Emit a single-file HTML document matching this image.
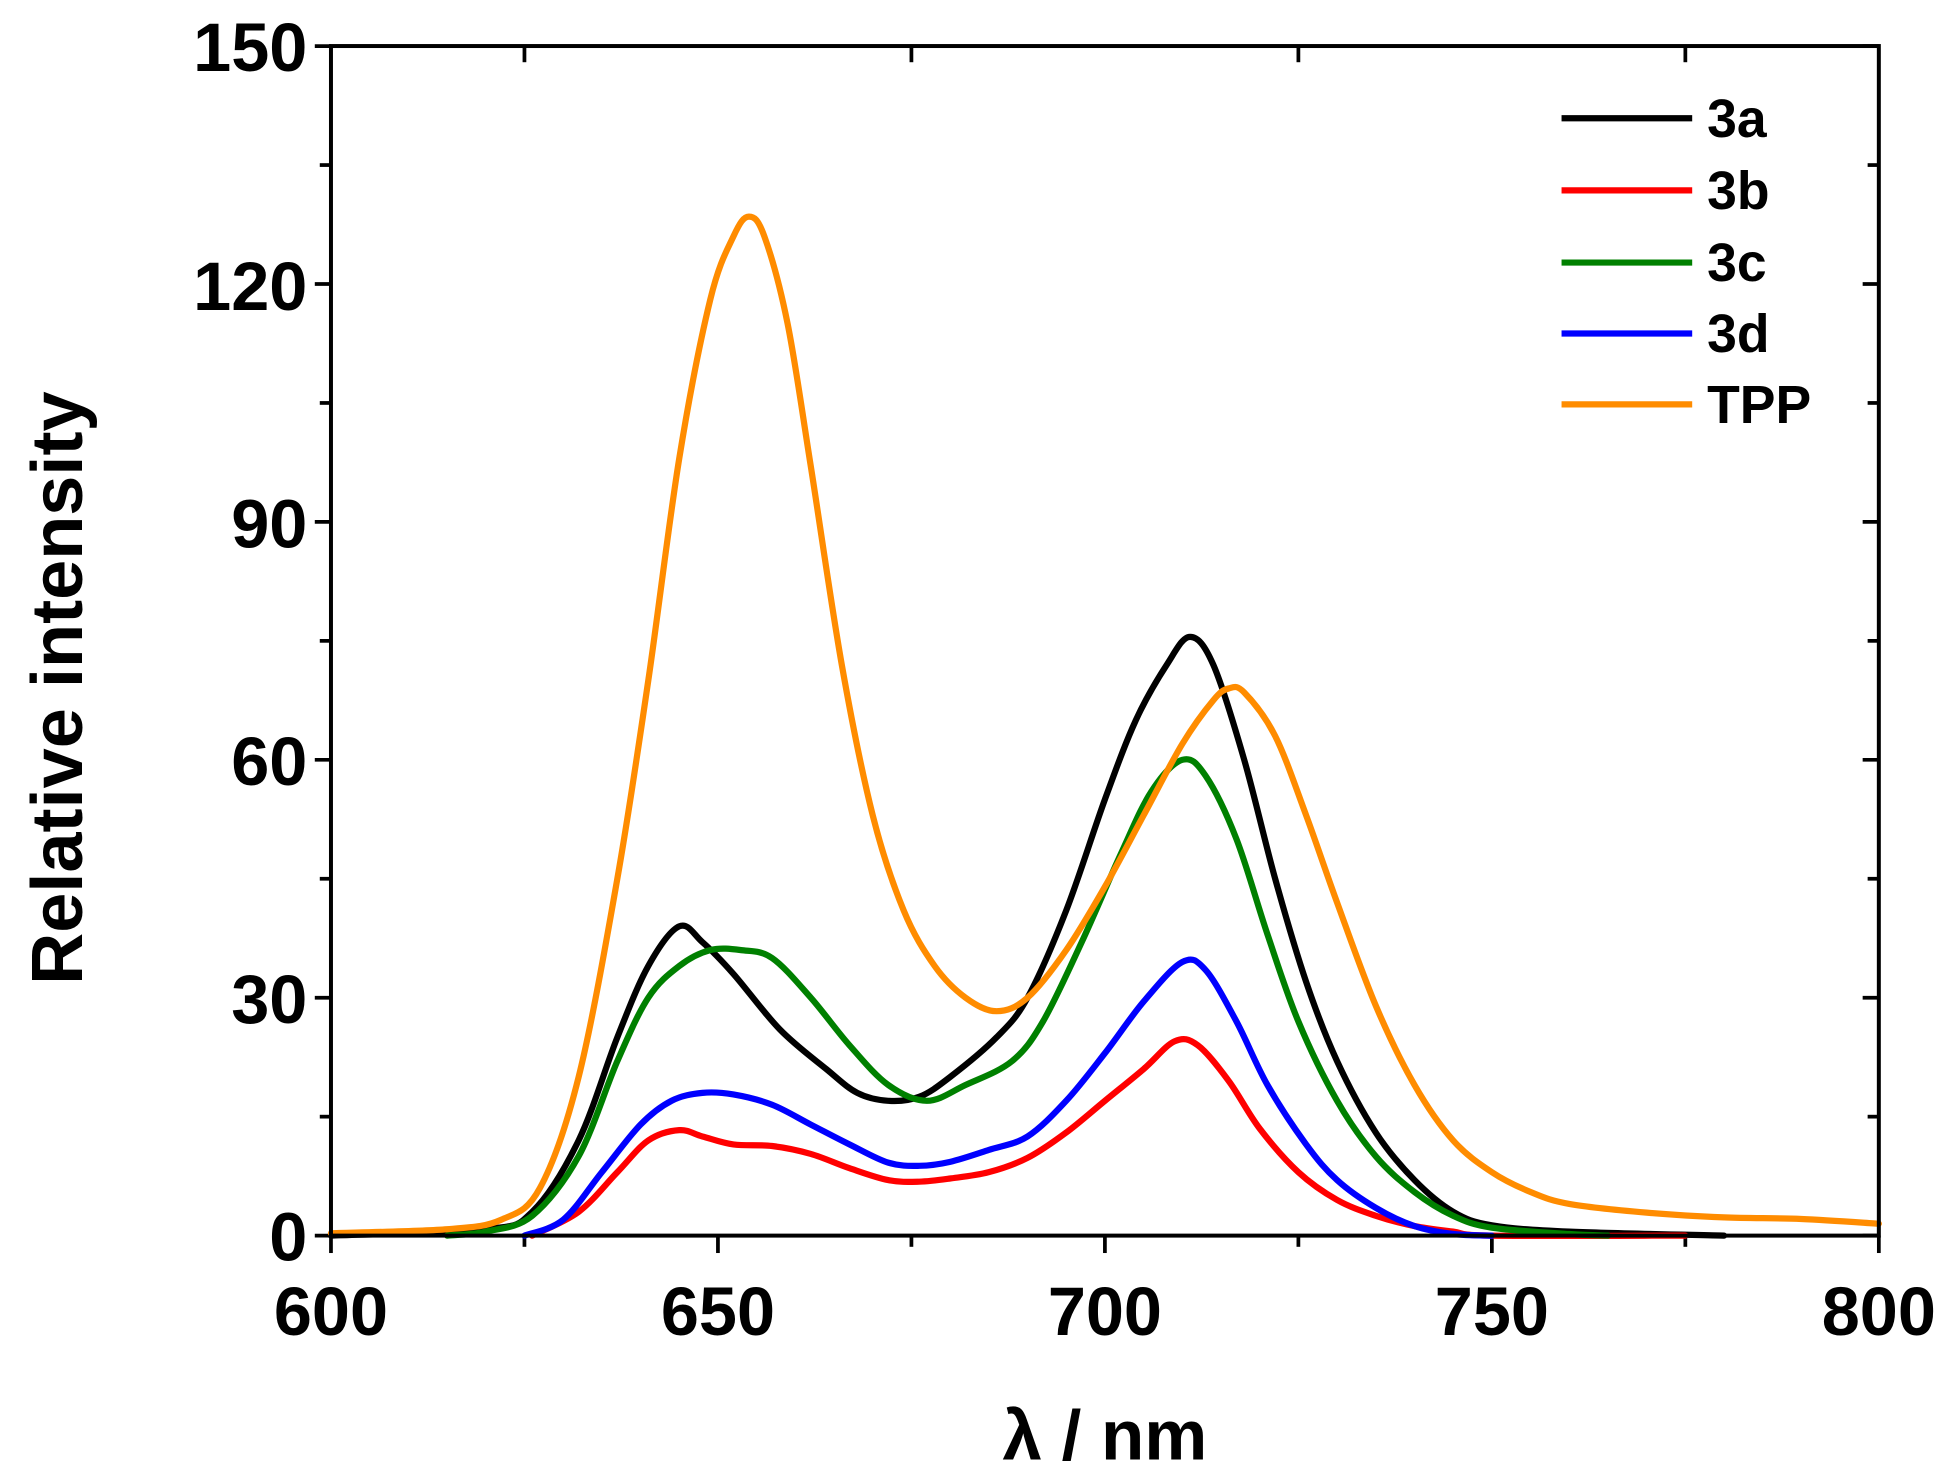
<!DOCTYPE html>
<html><head><meta charset="utf-8"><style>
html,body{margin:0;padding:0;background:#fff;}
svg{display:block;}
text{font-family:"Liberation Sans",Arial,sans-serif;font-weight:bold;fill:#000;}
</style></head><body>
<svg id="s" width="1951" height="1479" viewBox="0 0 1568 1188.6" preserveAspectRatio="none" xmlns="http://www.w3.org/2000/svg">
<g id="ticks" stroke="#000" stroke-width="3" fill="none"></g>
<g id="series" fill="none" stroke-width="5" stroke-linejoin="round" stroke-linecap="round"></g>
<rect x="266" y="37" width="1244" height="956" fill="none" stroke="#000" stroke-width="3.2"/>
<g font-size="55" text-anchor="end">
<text x="247" y="57">150</text>
<text x="247" y="249">120</text>
<text x="247" y="440">90</text>
<text x="247" y="631">60</text>
<text x="247" y="822">30</text>
<text x="247" y="1013">0</text>
</g>
<g font-size="55" text-anchor="middle">
<text x="266" y="1073">600</text>
<text x="577" y="1073">650</text>
<text x="888" y="1073">700</text>
<text x="1199" y="1073">750</text>
<text x="1510" y="1073">800</text>
</g>
<text x="888" y="1173" font-size="57" text-anchor="middle">λ / nm</text>
<text transform="translate(66,553) rotate(-90)" font-size="58" text-anchor="middle">Relative intensity</text>
<g stroke-width="5">
<line x1="1255" y1="95" x2="1360" y2="95" stroke="#000"/>
<line x1="1255" y1="153" x2="1360" y2="153" stroke="#f00"/>
<line x1="1255" y1="211" x2="1360" y2="211" stroke="#008000"/>
<line x1="1255" y1="268" x2="1360" y2="268" stroke="#00f"/>
<line x1="1255" y1="325" x2="1360" y2="325" stroke="#ff8c00"/>
</g>
<g font-size="43">
<text x="1372" y="110">3a</text>
<text x="1372" y="168">3b</text>
<text x="1372" y="226">3c</text>
<text x="1372" y="283">3d</text>
<text x="1372" y="340">TPP</text>
</g>
</svg>
<script>
var X=function(l){return 266+(l-600)*6.22;},Y=function(v){return 993-v*6.373;};
var tk=document.getElementById('ticks'),h='';
for(var l=600;l<=800;l+=25){var x=X(l),maj=(l%50==0);
 h+='<line x1="'+x+'" y1="993" x2="'+x+'" y2="'+(993+(maj?14:9))+'"/>';
 if(!maj)h+='<line x1="'+x+'" y1="37" x2="'+x+'" y2="50"/>';}
for(var v=0;v<=150;v+=15){var y=Y(v),maj=(v%30==0);
 h+='<line x1="266" y1="'+y+'" x2="'+(266-(maj?13:9))+'" y2="'+y+'"/>';
 h+='<line x1="1510" y1="'+y+'" x2="'+(1510-(maj?13:9))+'" y2="'+y+'"/>';}
tk.innerHTML=h;
var S={
'#000':[600,0,620,0.8,626,3,632,12,637,25,641,34,645,39,648,37,652,33,658,26,664,21,668,18,672,17,676,17.5,680,20,686,25,690,30,695,41,700,55,704,65,708,72,711,75.5,714,72,718,60,722,45,726,32,730,22,735,13,740,7,745,3,750,1.3,760,0.5,780,0],
'#f00':[626,0,632,3,637,8,641,12,645,13.3,648,12.5,652,11.5,657,11.3,662,10.3,667,8.5,672,7,676,6.8,680,7.2,685,8,690,9.8,695,13,700,17,705,21,709,24.5,712,24,716,19.5,720,13.5,725,8,730,4.5,735,2.5,740,1.2,745,0.5,750,0,775,0],
'#008000':[615,0,620,0.5,626,2.5,632,10,637,22,641,30,645,34,649,36,653,36,657,35,662,30,667,24,672,19,677,17,682,19,688,22,692,27,697,37,702,48,706,56,710,60,713,58,717,50,721,38,725,27,730,17,735,10,740,5.5,745,2.5,750,1,760,0.2,765,0],
'#00f':[625,0,630,2,635,8,640,14,644,17,648,18,652,17.8,657,16.5,662,14,667,11.5,672,9.2,676,8.8,680,9.3,685,10.8,690,12.5,695,17,700,23,705,29.5,710,34.5,713,33.5,717,27,721,19,726,11.5,730,7,735,3.5,740,1.2,745,0.2,750,0],
'#ff8c00':[600,0.3,615,0.8,622,2,627,6,632,20,637,45,641,70,645,98,649,118,652,126,654,128.5,656,126,659,115,662,97,666,72,670,53,674,41,678,34,682,30,686,28.3,690,30,695,36,700,44,705,53,710,62,714,67.5,716,69,718,68.5,722,63,726,53,730,42,735,29,740,19,745,12,750,8,755,5.5,760,4,770,2.9,780,2.3,790,2.1,800,1.5]};
var g=document.getElementById('series'),o='';
for(var c in S){var a=S[c],p=[];for(var i=0;i<a.length;i+=2)p.push([X(a[i]),Y(a[i+1])]);
 var d='M'+p[0][0]+','+p[0][1];
 for(var i=0;i<p.length-1;i++){var p0=p[i-1]||p[i],p1=p[i],p2=p[i+1],p3=p[i+2]||p2;
  d+=' C'+(p1[0]+(p2[0]-p0[0])/6)+','+(p1[1]+(p2[1]-p0[1])/6)+' '+(p2[0]-(p3[0]-p1[0])/6)+','+(p2[1]-(p3[1]-p1[1])/6)+' '+p2[0]+','+p2[1];}
 o+='<path d="'+d+'" stroke="'+c+'"/>';}
g.innerHTML=o;
</script>
</body></html>
